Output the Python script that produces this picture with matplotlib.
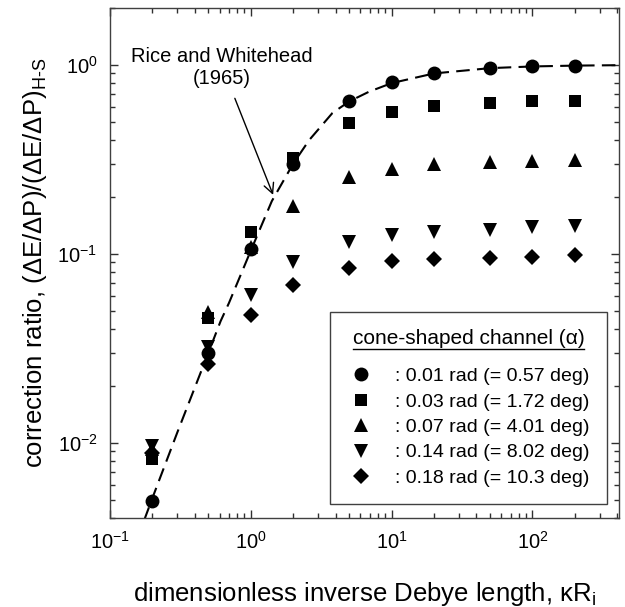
import matplotlib
matplotlib.use("Agg")
from matplotlib import pyplot as plt
from matplotlib.lines import Line2D

plt.rcParams['font.family'] = ['Liberation Sans', 'DejaVu Sans']
plt.rcParams['mathtext.fontset'] = 'custom'
plt.rcParams['mathtext.rm'] = 'Liberation Sans'
plt.rcParams['mathtext.it'] = 'Liberation Sans:italic'
plt.rcParams['mathtext.bf'] = 'Liberation Sans:bold'
plt.rcParams['axes.unicode_minus'] = False

# data
kR = [0.2, 0.5, 1, 2, 5, 10, 20, 50, 100, 200]
r_001 = [0.0049, 0.030, 0.106, 0.30, 0.646, 0.815, 0.91, 0.96, 0.99, 0.99]
r_003 = [0.0082, 0.046, 0.13, 0.32, 0.49, 0.565, 0.605, 0.63, 0.64, 0.645]
r_007 = [0.0093, 0.049, 0.109, 0.18, 0.255, 0.28, 0.297, 0.306, 0.31, 0.312]
r_014 = [0.0096, 0.032, 0.0605, 0.09, 0.116, 0.126, 0.13, 0.134, 0.138, 0.14]
r_018 = [0.0088, 0.026, 0.0475, 0.068, 0.0846, 0.092, 0.094, 0.0955, 0.096, 0.099]

# Rice and Whitehead (1965) curve
rw_x = [0.175, 0.2, 0.3, 0.5, 0.61, 0.7, 1.0, 1.41, 2, 2.6, 3.8, 5, 6.9, 10, 20, 50, 100, 200, 400]
rw_y = [0.0039, 0.0051, 0.0113, 0.030, 0.044, 0.055, 0.104, 0.19, 0.30, 0.40, 0.556, 0.64, 0.72, 0.80, 0.90, 0.96, 0.98, 0.99, 0.995]

labels = [': 0.01 rad (= 0.57 deg)', ': 0.03 rad (= 1.72 deg)', ': 0.07 rad (= 4.01 deg)',
          ': 0.14 rad (= 8.02 deg)', ': 0.18 rad (= 10.3 deg)']
markers = ['o', 's', '^', 'v', 'D']
sizes = [10, 8.5, 10, 10, 8]

fig = plt.figure(figsize=(6.25, 6.07), dpi=100)
ax = fig.add_axes([0.176, 0.1466, 0.814, 0.8404])

ax.plot(rw_x, rw_y, color='black', linewidth=1.5, dashes=(6.5, 3.5), zorder=2)

series = [r_001, r_003, r_007, r_014, r_018]
handles = []
for vals, m, s, lab in zip(series, markers, sizes, labels):
    h, = ax.plot(kR, vals, linestyle='none', marker=m, markersize=s, color='black',
                 markeredgewidth=0, label=lab, zorder=3)
    handles.append(h)

ax.set_xscale('log')
ax.set_yscale('log')
ax.set_xlim(0.1, 410)
ax.set_ylim(0.004, 2.0)

ax.tick_params(which='both', direction='in', top=True, right=True, labelsize=14.5, colors='#303030')
ax.tick_params(which='major', length=6, width=1)
ax.tick_params(which='minor', length=3.5, width=1)
ax.tick_params(axis='x', pad=9)
ax.tick_params(axis='y', pad=9)
for sp in ax.spines.values():
    sp.set_color('#404040')
    sp.set_linewidth(1)
for lab in ax.get_xticklabels() + ax.get_yticklabels():
    lab.set_color('black')

ax.set_xlabel('dimensionless inverse Debye length, κR$_{\\rm i}$', fontsize=18.5, labelpad=20)
ax.set_ylabel('correction ratio, (ΔE/ΔP)/(ΔE/ΔP)$_{\\rm H\\text{-}S}$', fontsize=18.5, labelpad=6)

ax.annotate('Rice and Whitehead\n(1965)', xy=(1.44, 0.205), xytext=(0.62, 0.97),
            fontsize=14.5, ha='center', va='center', multialignment='center',
            arrowprops=dict(arrowstyle='->', color='black', lw=1, shrinkA=6, shrinkB=0,
                            relpos=(0.55, 0.0), mutation_scale=18))

leg = ax.legend(handles=handles, loc='lower right', bbox_to_anchor=(0.976, 0.027),
                title='cone-shaped channel (α)', title_fontsize=15, fontsize=14,
                frameon=True, fancybox=False, edgecolor='#404040', framealpha=1,
                handletextpad=1.0, labelspacing=0.4, borderpad=0.9, handlelength=1.4,
                borderaxespad=0)
leg.get_frame().set_linewidth(1)
leg._legend_box.sep = 14

# underline the legend title
fig.canvas.draw()
bb = leg.get_title().get_window_extent().transformed(fig.transFigure.inverted())
fig.add_artist(Line2D([bb.x0, bb.x1], [bb.y0 - 0.002, bb.y0 - 0.002], color='black', lw=1,
                      transform=fig.transFigure))

fig.savefig('out.png', dpi=100)
